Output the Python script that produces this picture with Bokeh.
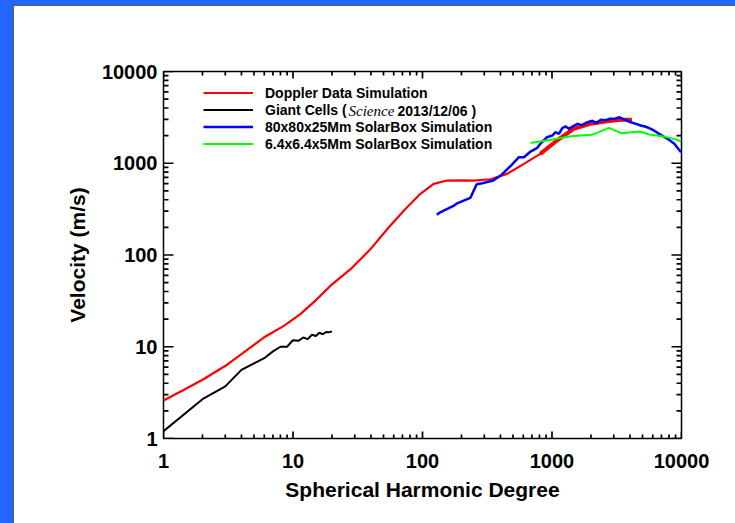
from bokeh.plotting import figure
from bokeh.models import Legend, LegendItem, Label, Range1d, Spacer, FixedTicker
from bokeh.layouts import row, column
from bokeh.embed import file_html
from bokeh.resources import INLINE

# ---------------- data ----------------
doppler_l = [1, 1.43, 2.05, 3.01, 4.17, 5.95, 8.5, 11.4, 14.9, 19.4, 27.8,
             39.7, 53.5, 71.9, 96.4, 122, 155, 200, 247, 334, 450, 607, 812,
             1092, 1468, 1977, 2665, 3390, 4131]
doppler_v = [2.6, 3.37, 4.45, 6.2, 8.7, 12.6, 16.9, 22.7, 31.8, 46, 70,
             116, 192, 305, 464, 596, 648, 652, 648, 669, 766, 984, 1266,
             1770, 2373, 2690, 2871, 2973, 2973]

giant_l = list(range(1, 21))
giant_v = [1.2, 2.68, 3.7, 5.6, 6.6, 7.5, 8.9, 10.0, 10.0, 11.8, 11.6, 12.6,
           12.1, 13.5, 13.1, 14.2, 13.7, 14.5, 14.4, 14.7]

box80_l = [129, 137, 175, 185, 234, 262, 289, 352, 402, 491, 553, 607, 683,
           770, 812, 915, 1003, 1065, 1131, 1203, 1276, 1356, 1439, 1573,
           1700, 1880, 2050, 2200, 2386, 2600, 2800, 3023, 3309, 3390, 3700,
           4055, 4400, 4847, 5300, 5795, 6200, 6724, 7300, 7805, 8800, 9920]
box80_v = [274, 292, 345, 366, 419, 590, 605, 648, 734, 968, 1161, 1161,
           1342, 1472, 1629, 1923, 2005, 2178, 2093, 2433, 2513, 2371, 2513,
           2690, 2600, 2800, 2900, 2750, 2973, 2950, 3050, 3048, 3176, 3127,
           2950, 2800, 2700, 2576, 2500, 2373, 2250, 2093, 1950, 1846, 1629,
           1318]

box6_l = [683, 983, 1387, 2037, 2755, 3439, 4783, 5629, 7068, 8171, 9920]
box6_v = [1667, 1800, 1968, 2041, 2433, 2124, 2218, 2056, 1968, 1891, 1738]

major_ticks = [1, 10, 100, 1000, 10000]
tick_labels = ["1", "10", "100", "1000", "10000"]
minor_ticks = [m * 10 ** d for d in range(4) for m in range(2, 10)]

series_names = ["Doppler Data Simulation", "Giant Cells (",
                "80x80x25Mm SolarBox Simulation",
                "6.4x6.4x5Mm SolarBox Simulation"]

FONT = "Liberation Sans"
BRIGHT = "#2266ff"
DARK = "#40649f"
LMIN, LMAX = 1, 10000
FRAME_W, FRAME_H = 518, 367
PX_PER_DEC_X = FRAME_W / 4.0
PX_PER_DEC_Y = FRAME_H / 4.0

p = figure(width=721, height=517, x_axis_type="log", y_axis_type="log",
           x_range=Range1d(LMIN, LMAX), y_range=Range1d(LMIN, LMAX),
           toolbar_location=None, output_backend="svg",
           min_border_left=149, min_border_right=54,
           min_border_top=65, min_border_bottom=85)
p.grid.visible = False
p.outline_line_color = "black"
p.outline_line_width = 1.5
p.background_fill_color = "white"
p.border_fill_color = "white"

overrides = {float(t): s for t, s in zip(major_ticks, tick_labels)}
for ax in (p.xaxis[0], p.yaxis[0]):
    ax.ticker = FixedTicker(ticks=major_ticks, minor_ticks=minor_ticks)
    ax.axis_line_color = None
    ax.major_tick_line_color = None
    ax.minor_tick_line_color = None
    ax.major_tick_in = 0
    ax.major_tick_out = 0
    ax.minor_tick_in = 0
    ax.minor_tick_out = 0
    ax.major_label_text_font = FONT
    ax.major_label_text_font_style = "bold"
    ax.major_label_text_color = "black"
    ax.major_label_text_font_size = "20px"
    ax.major_label_overrides = overrides
    ax.axis_label_text_font = FONT
    ax.axis_label_text_font_style = "bold"
    ax.axis_label_text_font_size = "21px"
    ax.axis_label_text_color = "black"

p.xaxis.axis_label = "Spherical Harmonic Degree"
p.yaxis.axis_label = "Velocity (m/s)"
p.xaxis.major_label_standoff = 15
p.xaxis.axis_label_standoff = 7
p.yaxis.major_label_standoff = 6
p.yaxis.axis_label_standoff = 10

# inward tick marks on all four sides (IDL-style box), lengths in pixels
x0s, y0s, x1s, y1s = [], [], [], []
for ticks, ylen, xlen in ((major_ticks, 10, 7), (minor_ticks, 5, 4)):
    fx = 10 ** (ylen / PX_PER_DEC_X)   # horizontal tick extent on y-axes
    fy = 10 ** (xlen / PX_PER_DEC_Y)   # vertical tick extent on x-axes
    for t in ticks:
        x0s += [LMIN, LMAX, t, t]
        y0s += [t, t, LMIN, LMAX]
        x1s += [LMIN * fx, LMAX / fx, t, t]
        y1s += [t, t, LMIN * fy, LMAX / fy]
p.segment(x0=x0s, y0=y0s, x1=x1s, y1=y1s, line_color="#000000",
          line_width=1.7)

r_red = p.line(doppler_l, doppler_v, line_color="#ff0000", line_width=2.2)
p.line(doppler_l[22:], doppler_v[22:], line_color="#ff0000", line_width=4)
r_black = p.line(giant_l, giant_v, line_color="black", line_width=2)
r_blue = p.line(box80_l, box80_v, line_color="#0000ff", line_width=2.5)
r_green = p.line(box6_l, box6_v, line_color="#00ff00", line_width=2)

legend = Legend(
    items=[LegendItem(label=series_names[0], renderers=[r_red]),
           LegendItem(label=series_names[1], renderers=[r_black]),
           LegendItem(label=series_names[2], renderers=[r_blue]),
           LegendItem(label=series_names[3], renderers=[r_green])],
    location=(40, 286), border_line_color=None, background_fill_alpha=0,
    glyph_width=50, glyph_height=17, label_height=17, spacing=0,
    padding=0, margin=0, label_standoff=12,
    label_text_font=FONT, label_text_font_style="bold",
    label_text_font_size="14px", label_text_color="black")
p.add_layout(legend)

p.add_layout(Label(x=185, y=327.5, x_units="screen", y_units="screen",
                   text="Science", text_font="Liberation Serif",
                   text_font_style="italic", text_font_size="15px",
                   text_baseline="middle", text_color="black"))
p.add_layout(Label(x=234, y=327.5, x_units="screen", y_units="screen",
                   text="2013/12/06 )", text_font=FONT,
                   text_font_style="bold", text_font_size="14px",
                   text_baseline="middle", text_color="black"))

layout = row(
    Spacer(width=12, height=523, styles={"background-color": BRIGHT}),
    column(
        Spacer(width=723, height=4, styles={"background-color": BRIGHT}),
        row(
            Spacer(width=2, height=519, styles={"background-color": DARK}),
            column(
                Spacer(width=721, height=2, styles={"background-color": DARK}),
                p, spacing=0),
            spacing=0),
        spacing=0),
    spacing=0)

open("out.html", "w").write(file_html(layout, INLINE))
